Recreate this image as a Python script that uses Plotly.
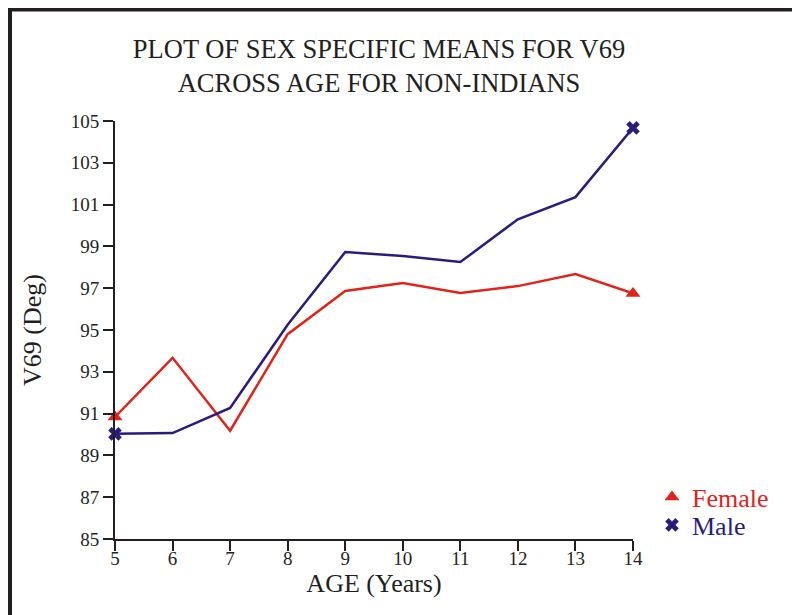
import plotly.graph_objects as go

ages = [5, 6, 7, 8, 9, 10, 11, 12, 13, 14]
female = [90.84, 93.67, 90.18, 94.8, 96.87, 97.25, 96.77, 97.1, 97.68, 96.75]
male = [90.03, 90.07, 91.27, 95.25, 98.73, 98.54, 98.25, 100.3, 101.36, 104.67]
y_ticks = [85, 87, 89, 91, 93, 95, 97, 99, 101, 103, 105]

RED = "#E2231A"
NAVY = "#2B1B7C"
INK = "#231F20"
FONT = "Liberation Serif"

# page body has an 8px margin: the figure is 792x607 so it fills the 800x615 window
W, H = 792, 607
OFF = 8
L, R, T, B = 115 - OFF, 800 - 633, 121 - OFF, 615 - 539
pw, ph = W - L - R, H - T - B


def px_x(sx):
    return (sx - OFF - L) / pw


def px_y(sy):
    return 1 - (sy - OFF - T) / ph


def ends(seq):
    return [seq[0], seq[-1]]


fig = go.Figure()
fig.add_trace(go.Scatter(
    x=ages, y=female, mode="lines", showlegend=False,
    line=dict(color=RED, width=2.5),
))
fig.add_trace(go.Scatter(
    x=ages, y=male, mode="lines", showlegend=False,
    line=dict(color=NAVY, width=2.5),
))
# end-point markers, which also make the legend entries
fig.add_trace(go.Scatter(
    x=ends(ages), y=ends(female), mode="markers", legend="legend",
    name=f'<span style="color:{RED}">Female</span>',
    marker=dict(symbol="triangle-up", color=RED, size=13, line=dict(width=0), opacity=1),
    cliponaxis=False,
))
fig.add_trace(go.Scatter(
    x=ends(ages), y=ends(male), mode="markers", legend="legend2",
    name=f'<span style="color:{NAVY}">Male</span>',
    marker=dict(symbol="x", color=NAVY, size=12, line=dict(width=0), opacity=1),
    cliponaxis=False,
))

leg_common = dict(xanchor="left", yanchor="middle",
                  font=dict(family=FONT, size=26),
                  bgcolor="rgba(0,0,0,0)", itemwidth=30, borderwidth=0)

fig.update_layout(
    width=W, height=H,
    margin=dict(l=L, r=R, t=T, b=B),
    paper_bgcolor="white", plot_bgcolor="white",
    font=dict(family=FONT, color=INK, size=19),
    title=dict(
        text="PLOT OF SEX SPECIFIC MEANS FOR V69<br>ACROSS AGE FOR NON-INDIANS",
        x=(379 - OFF) / W, xanchor="center", y=1 - 50 / H, yanchor="top",
        font=dict(family=FONT, size=26.5, color=INK),
    ),
    xaxis=dict(
        range=[5, 14], tickvals=ages, ticktext=[str(a) for a in ages],
        showgrid=False, zeroline=False,
        showline=True, linecolor=INK, linewidth=2,
        ticks="outside", ticklen=10, tickwidth=2, tickcolor=INK,
        tickfont=dict(size=19), ticklabelstandoff=-9,
        title=dict(text="AGE (Years)", font=dict(size=26), standoff=0),
    ),
    yaxis=dict(
        range=[85, 105], tickvals=y_ticks, ticktext=[str(v) for v in y_ticks],
        showgrid=False, zeroline=False,
        showline=True, linecolor=INK, linewidth=2,
        ticks="outside", ticklen=10, tickwidth=2, tickcolor=INK,
        tickfont=dict(size=19),
        title=dict(text="V69 (Deg)", font=dict(size=26), standoff=22),
    ),
    legend=dict(x=px_x(652), y=px_y(497), **leg_common),
    legend2=dict(x=px_x(652), y=px_y(525), **leg_common),
    shapes=[dict(
        type="rect", xref="paper", yref="paper",
        x0=px_x(10), x1=px_x(900),
        y0=px_y(700), y1=px_y(9.5),
        line=dict(color=INK, width=4), fillcolor="rgba(0,0,0,0)", layer="below",
    )],
)

fig.write_html("out.html")
